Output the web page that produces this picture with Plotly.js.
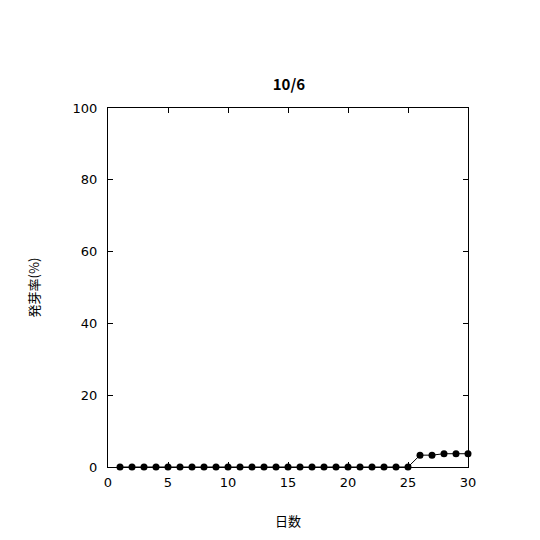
<!DOCTYPE html>
<html><head><meta charset="utf-8">
<script src="https://cdn.plot.ly/plotly-3.0.1.min.js"></script>
<style>body{margin:0;background:#fff}</style>
</head><body>
<div id="chart" style="width:540px;height:540px"></div>
<script>
const days = [1,2,3,4,5,6,7,8,9,10,11,12,13,14,15,16,17,18,19,20,21,22,23,24,25,26,27,28,29,30];
const rate = [0,0,0,0,0,0,0,0,0,0,0,0,0,0,0,0,0,0,0,0,0,0,0,0,0,3.3,3.3,3.7,3.7,3.7];
const chartTitle = '10/6';
const xTitle = '日数';
const yTitle = '発芽率(%)';
const fontFam = '"Noto Sans CJK JP", "DejaVu Sans", sans-serif';
const tickFont = {family: '"DejaVu Sans", sans-serif', size: 13, color: '#000'};

Plotly.newPlot('chart', [{
  x: days, y: rate, type: 'scatter', mode: 'lines+markers',
  line: {color: '#000', width: 1},
  marker: {color: '#000', size: 7, symbol: 'circle'},
  cliponaxis: false, showlegend: false
}], {
  width: 540, height: 540,
  margin: {l: 108, r: 72, t: 108, b: 73},
  paper_bgcolor: '#fff', plot_bgcolor: '#fff',
  font: {family: fontFam, size: 13, color: '#000'},
  title: {text: '<b>' + chartTitle + '</b>', x: 0.535, xanchor: 'center', y: 0.843, yanchor: 'middle', font: {size: 15, family: fontFam}},
  xaxis: {
    range: [0, 30], tickvals: [0,5,10,15,20,25,30], ticks: 'inside', ticklen: 5, tickcolor: '#000',
    showline: true, linecolor: '#000', linewidth: 1, mirror: 'ticks', showgrid: false, zeroline: false,
    tickfont: tickFont, ticklabelstandoff: 3,
    title: {text: xTitle, standoff: 28, font: {size: 13}}
  },
  yaxis: {
    range: [0, 100], tickvals: [0,20,40,60,80,100], ticks: 'inside', ticklen: 5, tickcolor: '#000',
    showline: true, linecolor: '#000', linewidth: 1, mirror: 'ticks', showgrid: false, zeroline: false,
    tickfont: tickFont, ticklabelstandoff: 7,
    title: {text: yTitle, standoff: 30, font: {size: 13}}
  }
}, {displayModeBar: false});
</script>
</body></html>
